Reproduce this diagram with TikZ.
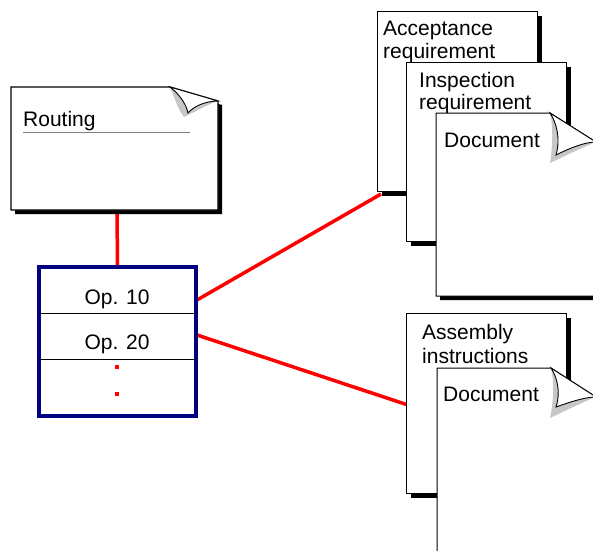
\documentclass[tikz,border=0pt]{standalone}
\usepackage{fontspec}
\setmainfont{Liberation Sans}
\definecolor{opnavy}{RGB}{0,0,128}
\tikzset{
  page/.style={fill=white, draw=black, line width=1pt},
  pageshadow/.style={fill=black},
  conn/.style={draw=red, line width=3.5pt},
  doclabel/.style={inner sep=0pt, anchor=base west, font=\fontsize{21}{24}\selectfont},
  oplabel/.style={inner sep=0pt, anchor=base, font=\fontsize{21}{24}\selectfont},
  opbox/.style={draw=opnavy, line width=4pt, fill=white, minimum width=157pt, minimum height=149pt, inner sep=0pt},
  rowline/.style={draw=black, line width=1pt},
  curlshade/.style={fill=black!22},
  flap/.style={fill=white, draw=black, line width=0.9pt},
}
\begin{document}
\begin{tikzpicture}[x=1pt,y=-1pt]
\clip (0,0) rectangle (593,550);
\fill[white] (0,0) rectangle (593,550);

% anchor points for connectors
\coordinate (rt-bot) at (117,212);
\coordinate (op10-r) at (197,300);
\coordinate (op20-r) at (197,335);
\coordinate (acc-sw) at (381,194);
\coordinate (asm-w) at (408,405);

% operations box
\node[opbox] (ops) at (117.5,341.5) {};

% connectors
\draw[conn] (rt-bot) -- (ops.north);
\draw[conn] (op10-r) -- (acc-sw);
\draw[conn] (op20-r) -- (asm-w);

% redraw box on top of the connector ends
\node[opbox] (opsfront) at (117.5,341.5) {};
\coordinate (row1) at (39,313);
\coordinate (row1e) at (196,313);
\coordinate (row2) at (39,359);
\coordinate (row2e) at (196,359);
\draw[rowline] (row1) -- (row1e);
\draw[rowline] (row2) -- (row2e);
\node[oplabel] (op10) at (117,304) {Op. 10};
\node[oplabel] (op20) at (117,349) {Op. 20};
\fill[red] (115,365) rectangle (119,369);
\fill[red] (115,392) rectangle (119,396);

% routing sheet with curled corner
\fill[pageshadow] (15,91) -- (174,91) -- (222,105) -- (222,214) -- (15,214) -- cycle;
\draw[page, line width=1.3pt] (11,87) -- (170,87) -- (218,101) -- (218,210) -- (11,210) -- cycle;
\fill[curlshade] (170,87) .. controls (174,96) and (178,110) .. (184,117)
   .. controls (195,112) and (208,104) .. (218,101) -- cycle;
\draw[flap] (170,87) .. controls (178,93) and (186,103) .. (188,113)
   .. controls (194,106) and (206,101) .. (218,101) -- cycle;
\node[doclabel] (routing) at (23,126) {Routing};
\draw[draw=black!50, line width=1pt] (23,132) -- (190,132);

% acceptance requirement sheet
\fill[pageshadow] (382,16) rectangle (542,196);
\draw[page] (377,11) rectangle (537,191);
\node[doclabel] (acc1) at (383,35) {Acceptance};
\node[doclabel] (acc2) at (383,58) {requirement};

% inspection requirement sheet
\fill[pageshadow] (411,67) rectangle (571,246);
\draw[page] (406,62) rectangle (566,241);
\node[doclabel] (insp1) at (419,87) {Inspection};
\node[doclabel] (insp2) at (419,109) {requirement};

% document sheet (upper group)
\fill[pageshadow] (440,117) -- (554,117) -- (600,146) -- (600,300) -- (440,300) -- cycle;
\draw[page] (436,113) -- (550,113) -- (596,142) -- (596,296) -- (436,296) -- cycle;
\fill[curlshade] (550,113) .. controls (553,125) and (553,145) .. (550,163)
   .. controls (565,156) and (585,146) .. (596,142) -- cycle;
\draw[flap] (550,113) .. controls (556,122) and (561,138) .. (556,155)
   .. controls (570,148) and (585,142) .. (596,142) -- cycle;
\node[doclabel] (doc1) at (444,147) {Document};

% assembly instructions sheet
\fill[pageshadow] (411,318) rectangle (571,498);
\draw[page] (406,313) rectangle (566,493);
\node[doclabel] (asm1) at (422,339) {Assembly};
\node[doclabel] (asm2) at (422,363) {instructions};

% document sheet (lower group)
\draw[page] (437,368) -- (551,368) -- (596,397) -- (596,560) -- (437,560) -- cycle;
\fill[curlshade] (551,368) .. controls (554,380) and (554,400) .. (550,418)
   .. controls (565,411) and (585,401) .. (596,397) -- cycle;
\draw[flap] (551,368) .. controls (557,377) and (561,392) .. (556,407)
   .. controls (570,402) and (585,397) .. (596,397) -- cycle;
\node[doclabel] (doc2) at (443,401) {Document};
\end{tikzpicture}
\end{document}
